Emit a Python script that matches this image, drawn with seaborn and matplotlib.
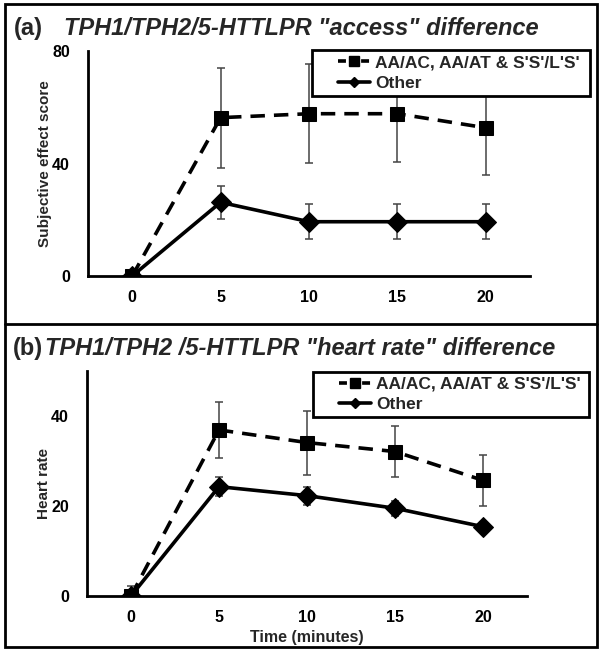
import numpy as np
import pandas as pd
import matplotlib
matplotlib.use("Agg")
import matplotlib.pyplot as plt
from matplotlib.patches import Rectangle
from matplotlib.lines import Line2D
import seaborn as sns

sns.set_theme(style="white")
plt.rcParams['font.family'] = ['Liberation Sans', 'DejaVu Sans']

# ---- data ----
time_min = [0, 5, 10, 15, 20]
series_names = ["AA/AC, AA/AT & S'S'/L'S'", "Other"]

access_risk = [0, 56.3, 57.7, 57.7, 52.7]
access_risk_se = [0.5, 17.8, 17.6, 17.0, 16.7]
access_other = [0, 26.2, 19.3, 19.3, 19.3]
access_other_se = [0.3, 5.9, 6.3, 6.3, 6.3]

hr_risk = [0, 36.9, 34.1, 32.1, 25.7]
hr_risk_se = [2.3, 6.3, 7.1, 5.6, 5.7]
hr_other = [0, 24.3, 22.3, 19.5, 15.4]
hr_other_se = [1.0, 2.1, 2.0, 1.7, 1.0]

panel_a_title = ('(a)', 'TPH1/TPH2/5-HTTLPR "access" difference')
panel_b_title = ('(b)', 'TPH1/TPH2 /5-HTTLPR "heart rate" difference')
ylabel_a = "Subjective effect score"
ylabel_b = "Heart rate"
xlabel = "Time (minutes)"
yticks_a = [0, 40, 80]
yticks_b = [0, 20, 40]

W, H = 604, 652
fig = plt.figure(figsize=(W / 100, H / 100), dpi=100)
fig.patch.set_facecolor("white")


def fx(px):
    return px / W


def fy(py):
    return 1 - py / H


ax_a = fig.add_axes([fx(88), fy(276), fx(530) - fx(88), fy(51) - fy(276)])
ax_b = fig.add_axes([fx(87), fy(596), fx(527) - fx(87), fy(371) - fy(596)])


def draw_panel(ax, risk, risk_se, other, other_se, ylim, yticks, ylabel):
    df = pd.DataFrame({
        "time": time_min * 2,
        "value": list(risk) + list(other),
        "group": [series_names[0]] * 5 + [series_names[1]] * 5,
    })
    ax.errorbar(time_min, risk, yerr=risk_se, fmt="none", ecolor="#444444",
                elinewidth=1.1, capsize=3, capthick=1.1, zorder=2)
    ax.errorbar(time_min, other, yerr=other_se, fmt="none", ecolor="#444444",
                elinewidth=1.1, capsize=3, capthick=1.1, zorder=2)
    sns.lineplot(data=df[df.group == series_names[0]], x="time", y="value",
                 ax=ax, color="black", linewidth=2.6, linestyle=(0, (4, 2.5)),
                 marker="s", markersize=10.5, markeredgecolor="black",
                 markerfacecolor="black", legend=False, zorder=3)
    sns.lineplot(data=df[df.group == series_names[1]], x="time", y="value",
                 ax=ax, color="black", linewidth=2.6, linestyle="-",
                 marker="D", markersize=10, markeredgecolor="black",
                 markerfacecolor="black", legend=False, zorder=3)
    ax.set_xlim(-2.5, 22.5)
    ax.set_ylim(*ylim)
    ax.set_xticks(time_min)
    ax.set_xticklabels([str(t) for t in time_min], fontsize=11.5, fontweight="bold")
    ax.set_yticks(yticks)
    ax.set_yticklabels([str(t) for t in yticks], fontsize=11.5, fontweight="bold")
    ax.set_xlabel("")
    ax.set_ylabel(ylabel, fontsize=11, fontweight="bold", labelpad=0)
    for s in ["top", "right"]:
        ax.spines[s].set_visible(False)
    for s in ["left", "bottom"]:
        ax.spines[s].set_color("black")
        ax.spines[s].set_linewidth(2)
    ax.tick_params(axis="y", direction="in", length=5, width=2, colors="black",
                   pad=13)
    ax.tick_params(axis="x", direction="in", length=3, width=2, colors="black",
                   pad=10)
    ax.set_facecolor("white")
    ax.grid(False)


draw_panel(ax_a, access_risk, access_risk_se, access_other, access_other_se,
           (0, 80), yticks_a, ylabel_a)
draw_panel(ax_b, hr_risk, hr_risk_se, hr_other, hr_other_se,
           (0, 50), yticks_b, ylabel_b)
ax_b.set_xlabel(xlabel, fontsize=11.5, fontweight="bold", labelpad=4)

handles = [
    Line2D([], [], color="black", linewidth=2.6, linestyle=(0, (2.2, 1)),
           marker="s", markersize=7),
    Line2D([], [], color="black", linewidth=2.6, linestyle="-",
           marker="D", markersize=5.5),
]


def add_legend(ax, x0, y0, x1, y1):
    # opaque framed box spanning the reference legend area (inside the axes'
    # artist list so that the legend can be drawn on top of it)
    box = Rectangle((fx(x0), fy(y1)), fx(x1) - fx(x0), fy(y0) - fy(y1),
                    transform=fig.transFigure, facecolor="white",
                    edgecolor="black", linewidth=2, zorder=9, clip_on=False)
    ax.add_artist(box)
    bb = ax.get_position()
    ax_x = (fx(x0 + 26) - bb.x0) / bb.width
    ax_y = (fy((y0 + y1) / 2) - bb.y0) / bb.height
    leg = ax.legend(handles, series_names, loc="center left",
                    bbox_to_anchor=(ax_x, ax_y),
                    frameon=False, prop={"weight": "bold", "size": 12.5},
                    handlelength=1.85, handletextpad=0.3, borderaxespad=0,
                    borderpad=0, labelspacing=0.3)
    leg.set_zorder(10)


add_legend(ax_a, 312, 50, 590, 96)
add_legend(ax_b, 313, 372, 589, 417)

# titles
fig.text(fx(14), fy(35), panel_a_title[0], fontsize=17, fontweight="bold",
         ha="left", va="baseline")
fig.text(fx(64), fy(35), panel_a_title[1], fontsize=17, fontweight="bold",
         style="italic", ha="left", va="baseline")
fig.text(fx(13), fy(355), panel_b_title[0], fontsize=17, fontweight="bold",
         ha="left", va="baseline")
fig.text(fx(45), fy(355), panel_b_title[1], fontsize=17, fontweight="bold",
         style="italic", ha="left", va="baseline")

# panel borders
fig.add_artist(Rectangle((fx(5), fy(647)), fx(597) - fx(5), fy(4) - fy(647),
                         transform=fig.transFigure, fill=False,
                         edgecolor="black", linewidth=2))
fig.add_artist(Line2D([fx(5), fx(597)], [fy(324), fy(324)],
                      transform=fig.transFigure, color="black", linewidth=2))

fig.savefig("out.png", dpi=100)
